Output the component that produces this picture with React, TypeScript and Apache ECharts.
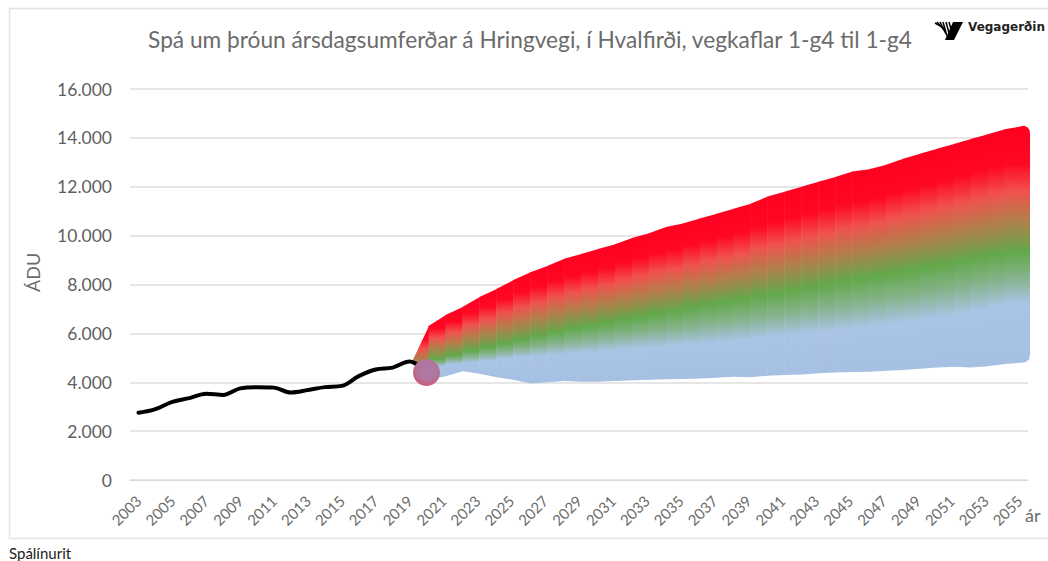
import React, { useEffect, useRef } from "react";
import * as echarts from "echarts";

const years = Array.from({ length: 53 }, (_, i) => String(2003 + i));
const history = [2750, 2900, 3200, 3350, 3530, 3480, 3750, 3800, 3780, 3580, 3680, 3800, 3850, 4250, 4520, 4600, 4850, 4400];
const circleValue = 4400;
// forecast years 2019..2055 (2019 is the point where the fan opens)
const high = [4800, 6300, 6750, 7080, 7490, 7820, 8180, 8500, 8760, 9050, 9250, 9450, 9650, 9900, 10100, 10350, 10500, 10700, 10900, 11100, 11300, 11600, 11800, 12000, 12200, 12400, 12620, 12720, 12900, 13150, 13350, 13550, 13750, 13950, 14150, 14350, 14480];
const mid = [4800, 4500, 4950, 5100, 5300, 5450, 5600, 5750, 5900, 6050, 6200, 6300, 6420, 6550, 6680, 6800, 6920, 7050, 7180, 7280, 7400, 7520, 7640, 7760, 7880, 8000, 8120, 8230, 8350, 8470, 8580, 8700, 8820, 8950, 9080, 9200, 9330];
const blueTop = [4800, 4300, 4650, 4750, 4800, 4880, 4960, 5030, 5080, 5130, 5180, 5230, 5290, 5350, 5400, 5440, 5490, 5550, 5610, 5670, 5740, 5810, 5880, 5950, 6020, 6100, 6180, 6260, 6340, 6420, 6500, 6600, 6700, 6820, 6950, 7100, 7240];
const low = [4800, 4100, 4250, 4450, 4350, 4200, 4100, 3950, 4000, 4050, 4020, 4020, 4050, 4080, 4100, 4120, 4130, 4150, 4180, 4230, 4200, 4270, 4300, 4320, 4370, 4400, 4420, 4430, 4470, 4500, 4550, 4600, 4630, 4600, 4650, 4750, 4800];

const TITLE = "Spá um þróun ársdagsumferðar á Hringvegi, í Hvalfirði, vegkaflar 1-g4 til 1-g4";
const firstIndex = 16; // 2019

function gradient(t: number, m: number, b: number, bot: number) {
  const h = Math.max(bot - t, 1);
  const mo = Math.min(Math.max((m - t) / h, 0.02), 0.98);
  const bo = Math.min(Math.max((b - t) / h, mo + 0.01), 0.99);
  return {
    type: "linear", x: 0, y: 0, x2: 0, y2: 1,
    colorStops: [
      { offset: 0, color: "#ff0020" },
      { offset: mo * 0.3, color: "#ff0824" },
      { offset: mo * 0.52, color: "#f0524f" },
      { offset: mo * 0.75, color: "#b27f4a" },
      { offset: mo, color: "#62a94b" },
      { offset: (mo + bo) / 2, color: "#86b38c" },
      { offset: bo, color: "#a9c4e4" },
      { offset: 1, color: "#a5c0e2" },
    ],
  };
}

const shift = 2;

function renderBand(params: any, api: any) {
  const k = params.dataIndex;
  const idx = firstIndex + k + 1;
  const yOf = (v: number) => api.coord([0, v])[1];
  const c1 = api.coord([idx, 0])[0];
  if (k === high.length - 1) {
    // rounded closing edge after the last year
    const xl = api.coord([idx - 1, 0])[0] + shift;
    const xr = xl + 8.5;
    const t = yOf(high[k]);
    const m = yOf(mid[k]);
    const bl = yOf(blueTop[k]);
    const bot = yOf(low[k]);
    return {
      type: "polygon",
      shape: {
        points: [
          [xl - 0.5, t], [xr - 6, t - 0.5], [xr - 2.5, t + 1], [xr - 0.5, t + 4], [xr, t + 8],
          [xr, bot - 8], [xr - 1, bot - 3.5], [xr - 4, bot - 0.8], [xr - 8, bot], [xl - 0.5, bot],
        ],
      },
      style: { fill: gradient(t - 0.5, m, bl, bot) as any },
    };
  }
  const x0 = api.coord([idx - 1, 0])[0] + shift;
  const x1 = c1 + shift;
  const t0 = yOf(high[k]);
  const t1 = yOf(high[k + 1]);
  const b0 = yOf(low[k]);
  const b1 = yOf(low[k + 1]);
  const top = Math.min(t0, t1);
  const bottom = Math.max(b0, b1);
  return {
    type: "polygon",
    shape: { points: [[x0, t0], [x1 + 0.5, t1], [x1 + 0.5, b1], [x0, b0]] },
    style: { fill: gradient(top, yOf(mid[k + 1]), yOf(blueTop[k + 1]), bottom) as any },
  };
}

export default function App() {
  const ref = useRef<HTMLDivElement>(null);
  useEffect(() => {
    document.body.style.margin = "0";
    const chart = echarts.init(ref.current!, undefined, { renderer: "svg" });
    const lineData: (number | null)[] = years.map((_, i) => (i < history.length ? history[i] : null));
    const circleData: (number | null)[] = years.map((y) => (y === "2020" ? circleValue : null));
    chart.setOption({
      animation: false,
      backgroundColor: "#ffffff",
      title: {
        text: TITLE,
        left: 525,
        top: 23,
        textAlign: "center",
        textStyle: { fontFamily: "Lato", fontSize: 22.7, fontWeight: "normal", color: "#6b6b6b" },
      },
      grid: { left: 130, right: 20, top: 89, bottom: 81 },
      xAxis: {
        type: "category",
        data: years,
        boundaryGap: true,
        axisLine: { lineStyle: { color: "#d9d9d9", width: 1 } },
        axisTick: { show: false },
        axisLabel: {
          interval: 1,
          rotate: 45,
          margin: 18,
          fontFamily: "Lato",
          fontSize: 15,
          color: "#6b6b6b",
        },
        splitLine: { show: false },
      },
      yAxis: {
        type: "value",
        min: 0,
        max: 16000,
        interval: 2000,
        axisLine: { show: false },
        axisTick: { show: false },
        axisLabel: {
          margin: 18,
          fontFamily: "Lato",
          fontSize: 17.5,
          color: "#5f5f5f",
          formatter: (v: number) => String(v).replace(/\B(?=(\d{3})+$)/g, "."),
        },
        splitLine: { lineStyle: { color: "#dedede", width: 1.5 } },
      },
      series: [
        {
          type: "custom",
          renderItem: renderBand,
          clip: false,
          silent: true,
          z: 2,
          encode: { x: 0, y: 1 },
          data: high.map((h, i) => [years[Math.min(firstIndex + i + 1, years.length - 1)], h]),
        },
        {
          type: "line",
          data: lineData,
          smooth: 0.35,
          showSymbol: false,
          symbol: "none",
          connectNulls: false,
          lineStyle: { color: "#000000", width: 4, cap: "round" },
          z: 3,
        },
        {
          type: "scatter",
          data: circleData,
          symbol: "circle",
          symbolSize: 27,
          itemStyle: {
            color: {
              type: "radial", x: 0.55, y: 0.4, r: 0.62,
              colorStops: [
                { offset: 0, color: "#ab7ca8" },
                { offset: 0.65, color: "#b3749c" },
                { offset: 1, color: "#cd5570" },
              ],
            },
            opacity: 1,
          },
          z: 20,
          zlevel: 1,
        },
      ],
      graphic: [
        { type: "rect", silent: true, z: -1, shape: { x: 9.5, y: 8.5, width: 1060, height: 530 }, style: { fill: "none", stroke: "#e4e4e4", lineWidth: 1.5 } },
        { type: "polygon", shape: { points: [[953, 22], [963, 22], [954, 40], [945, 40]] }, style: { fill: "#000" } },
        { type: "line", shape: { x1: 935, y1: 23, x2: 944, y2: 28 }, style: { stroke: "#000", lineWidth: 1.5 } },
        { type: "line", shape: { x1: 937, y1: 22, x2: 945, y2: 31 }, style: { stroke: "#000", lineWidth: 1.5 } },
        { type: "line", shape: { x1: 940, y1: 22, x2: 946, y2: 34 }, style: { stroke: "#000", lineWidth: 1.5 } },
        { type: "line", shape: { x1: 943, y1: 22, x2: 947, y2: 36 }, style: { stroke: "#000", lineWidth: 1.5 } },
        { type: "line", shape: { x1: 946, y1: 22, x2: 949, y2: 33 }, style: { stroke: "#000", lineWidth: 1.5 } },
        { type: "line", shape: { x1: 949, y1: 22, x2: 951, y2: 29 }, style: { stroke: "#000", lineWidth: 1.5 } },
        { type: "text", x: 968, y: 21, style: { text: "Vegagerðin", font: "bold 12px 'DejaVu Sans'", fill: "#222" } },
        { type: "text", x: 1025, y: 506, style: { text: "ár", font: "18px Lato", fill: "#6b6b6b" } },
        { type: "text", x: 9, y: 545, style: { text: "Spálínurit", font: "15px Lato", fill: "#222" } },
        { type: "text", x: 24, y: 292, rotation: Math.PI / 2, style: { text: "ÁDU", font: "18px Lato", fill: "#6b6b6b" } },
      ],
    });
    return () => chart.dispose();
  }, []);
  return <div ref={ref} style={{ position: "absolute", left: 0, top: 0, width: 1048, height: 561 }} />;
}
